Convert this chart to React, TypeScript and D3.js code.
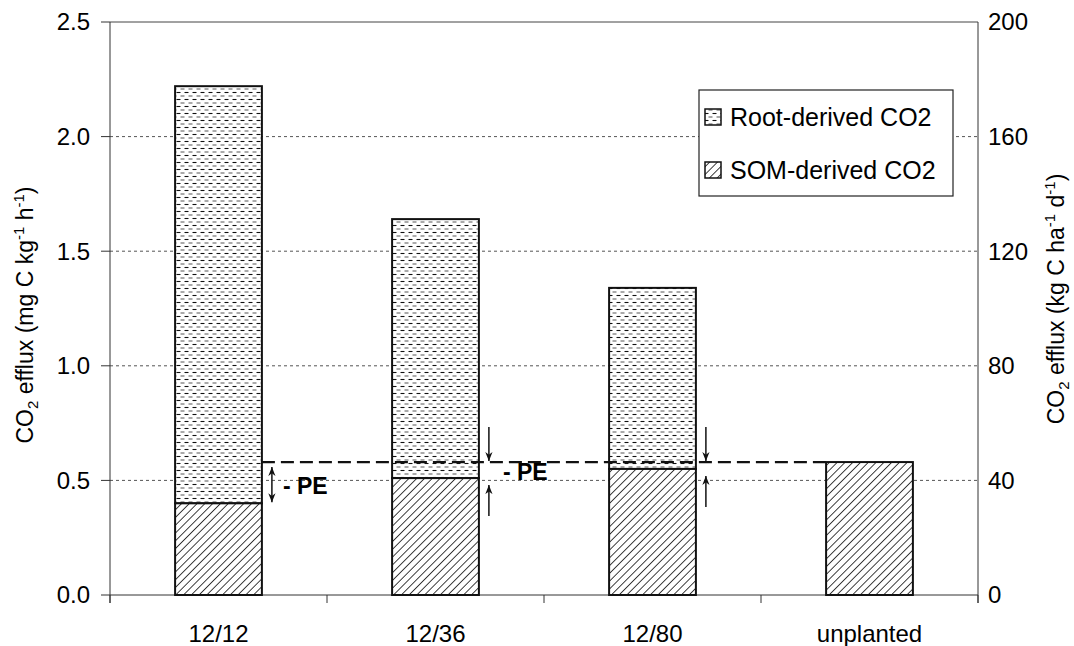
import React, { useEffect, useRef } from 'react';
import * as d3 from 'd3';

const categories = ['12/12', '12/36', '12/80', 'unplanted'];
const somValues = [0.4, 0.51, 0.55, 0.58];
const rootValues = [1.82, 1.13, 0.79, 0];
const leftTicks = [0, 0.5, 1.0, 1.5, 2.0, 2.5];
const rightTicks = [0, 40, 80, 120, 160, 200];
const legendItems = ['Root-derived CO2', 'SOM-derived CO2'];

const FONT = 'Liberation Sans, Arial, sans-serif';

const App = () => {
  const svgRef = useRef<SVGSVGElement>(null);

  useEffect(() => {
    const svg = d3.select(svgRef.current);
    svg.selectAll('*').remove();

    const left = 110, right = 978, top = 22, bottom = 595;

    const x = d3.scaleBand<string>()
      .domain(categories)
      .range([left, right])
      .paddingInner(0.6)
      .paddingOuter(0.3);
    const y = d3.scaleLinear().domain([0, 2.5]).range([bottom, top]);
    const yRight = d3.scaleLinear().domain([0, 200]).range([bottom, top]);
    const bw = x.bandwidth();
    const step = x.step();

    // patterns
    const defs = svg.append('defs');
    const root = defs.append('pattern')
      .attr('id', 'rootPat')
      .attr('patternUnits', 'userSpaceOnUse')
      .attr('width', 8)
      .attr('height', 7);
    root.append('rect').attr('width', 8).attr('height', 7).attr('fill', '#fff');
    root.append('line').attr('x1', 0.5).attr('x2', 4.5).attr('y1', 1.5).attr('y2', 1.5)
      .attr('stroke', '#111').attr('stroke-width', 1.1);
    root.append('line').attr('x1', 4.5).attr('x2', 8).attr('y1', 5).attr('y2', 5)
      .attr('stroke', '#555').attr('stroke-width', 1);
    root.append('line').attr('x1', 0).attr('x2', 0.5).attr('y1', 5).attr('y2', 5)
      .attr('stroke', '#555').attr('stroke-width', 1);

    const som = defs.append('pattern')
      .attr('id', 'somPat')
      .attr('patternUnits', 'userSpaceOnUse')
      .attr('width', 5.5)
      .attr('height', 5.5)
      .attr('patternTransform', 'rotate(45)');
    som.append('rect').attr('width', 5.5).attr('height', 5.5).attr('fill', '#fff');
    som.append('line').attr('x1', 0).attr('x2', 0).attr('y1', 0).attr('y2', 5.5)
      .attr('stroke', '#111').attr('stroke-width', 1.6);

    defs.append('marker')
      .attr('id', 'head')
      .attr('viewBox', '0 0 10 10')
      .attr('refX', 10).attr('refY', 5)
      .attr('markerWidth', 9).attr('markerHeight', 9)
      .attr('markerUnits', 'userSpaceOnUse')
      .attr('orient', 'auto-start-reverse')
      .append('path')
      .attr('d', 'M0,1 L10,5 L0,9 L3,5 Z')
      .attr('fill', '#111');

    // grid
    svg.append('g').selectAll('line')
      .data(leftTicks.filter(d => d > 0 && d < 2.5))
      .join('line')
      .attr('x1', left).attr('x2', right)
      .attr('y1', d => y(d)).attr('y2', d => y(d))
      .attr('stroke', '#555')
      .attr('stroke-width', 1)
      .attr('stroke-dasharray', '3,3');

    // frame
    svg.append('line').attr('x1', left).attr('x2', right).attr('y1', top).attr('y2', top)
      .attr('stroke', '#444');
    svg.append('line').attr('x1', left).attr('x2', left).attr('y1', top).attr('y2', bottom + 8)
      .attr('stroke', '#333');
    svg.append('line').attr('x1', right).attr('x2', right).attr('y1', top).attr('y2', bottom + 8)
      .attr('stroke', '#333');
    svg.append('line').attr('x1', left).attr('x2', right).attr('y1', bottom).attr('y2', bottom)
      .attr('stroke', '#333');

    // left ticks & labels
    const lt = svg.append('g');
    lt.selectAll('line').data(leftTicks).join('line')
      .attr('x1', left - 9).attr('x2', left)
      .attr('y1', d => y(d)).attr('y2', d => y(d))
      .attr('stroke', '#333');
    lt.selectAll('text').data(leftTicks).join('text')
      .attr('x', 90).attr('y', d => y(d))
      .attr('dy', '0.35em')
      .attr('text-anchor', 'end')
      .attr('font-family', FONT).attr('font-size', 24)
      .text(d => d3.format('.1f')(d));

    // right labels
    svg.append('g').selectAll('text').data(rightTicks).join('text')
      .attr('x', 988).attr('y', d => yRight(d))
      .attr('dy', '0.35em')
      .attr('font-family', FONT).attr('font-size', 24)
      .text(d => d);

    // x ticks & labels
    svg.append('g').selectAll('line')
      .data(d3.range(categories.length + 1))
      .join('line')
      .attr('x1', i => left + i * step).attr('x2', i => left + i * step)
      .attr('y1', bottom).attr('y2', bottom + 8)
      .attr('stroke', '#333');
    svg.append('g').selectAll('text').data(categories).join('text')
      .attr('x', d => (x(d) as number) + bw / 2)
      .attr('y', 642)
      .attr('text-anchor', 'middle')
      .attr('font-family', FONT).attr('font-size', 24)
      .text(d => d);

    // bars
    const bars = svg.append('g');
    categories.forEach((c, i) => {
      const x0 = x(c) as number;
      const s = somValues[i];
      const r = rootValues[i];
      if (r > 0) {
        bars.append('rect')
          .attr('x', x0).attr('y', y(s + r))
          .attr('width', bw).attr('height', y(s) - y(s + r))
          .attr('fill', 'url(#rootPat)')
          .attr('stroke', '#111').attr('stroke-width', 2);
      }
      bars.append('rect')
        .attr('x', x0).attr('y', y(s))
        .attr('width', bw).attr('height', y(0) - y(s))
        .attr('fill', 'url(#somPat)')
        .attr('stroke', '#111').attr('stroke-width', 2);
    });

    // unplanted reference line
    const refY = y(somValues[3]);
    svg.append('line')
      .attr('x1', (x(categories[0]) as number) + bw)
      .attr('x2', x(categories[3]) as number)
      .attr('y1', refY).attr('y2', refY)
      .attr('stroke', '#111')
      .attr('stroke-width', 2.2)
      .attr('stroke-dasharray', '13,6');

    // PE arrows
    const ann = svg.append('g').attr('stroke', '#111').attr('stroke-width', 1.5);
    const ax1 = (x(categories[0]) as number) + bw + 10;
    ann.append('line')
      .attr('x1', ax1).attr('x2', ax1)
      .attr('y1', refY + 5).attr('y2', y(somValues[0]) - 1)
      .attr('marker-start', 'url(#head)')
      .attr('marker-end', 'url(#head)');
    [1, 2].forEach(i => {
      const ax = (x(categories[i]) as number) + bw + 10;
      ann.append('line')
        .attr('x1', ax).attr('x2', ax)
        .attr('y1', refY - 35).attr('y2', refY - 1)
        .attr('marker-end', 'url(#head)');
      ann.append('line')
        .attr('x1', ax).attr('x2', ax)
        .attr('y1', y(somValues[i]) + 38).attr('y2', y(somValues[i]) + 7)
        .attr('marker-end', 'url(#head)');
    });

    svg.append('text')
      .attr('x', ax1 + 11).attr('y', (refY + y(somValues[0])) / 2 + 3)
      .attr('dy', '0.35em')
      .attr('font-family', FONT).attr('font-size', 23).attr('font-weight', 'bold')
      .text('- PE');
    svg.append('text')
      .attr('x', (x(categories[1]) as number) + bw + 24).attr('y', (refY + y(somValues[1])) / 2 + 2)
      .attr('dy', '0.35em')
      .attr('font-family', FONT).attr('font-size', 23).attr('font-weight', 'bold')
      .text('- PE');

    // legend
    const lg = svg.append('g');
    lg.append('rect')
      .attr('x', 699).attr('y', 90).attr('width', 254).attr('height', 106)
      .attr('fill', '#fff').attr('stroke', '#222').attr('stroke-width', 1.2);
    legendItems.forEach((t, i) => {
      const cy = 117 + i * 53;
      lg.append('rect')
        .attr('x', 705).attr('y', cy - 8).attr('width', 16).attr('height', 16)
        .attr('fill', i === 0 ? 'url(#rootPat)' : 'url(#somPat)')
        .attr('stroke', '#111').attr('stroke-width', 1.5);
      lg.append('text')
        .attr('x', 730).attr('y', cy)
        .attr('dy', '0.36em')
        .attr('font-family', FONT).attr('font-size', 25)
        .text(t);
    });

    // axis titles
    const leftTitle = svg.append('text')
      .attr('transform', 'translate(33,315) rotate(-90)')
      .attr('text-anchor', 'middle')
      .attr('font-family', FONT).attr('font-size', 23);
    leftTitle.append('tspan').text('CO');
    leftTitle.append('tspan').attr('font-size', 15).attr('dy', 5).text('2');
    leftTitle.append('tspan').attr('dy', -5).text(' efflux (mg C kg');
    leftTitle.append('tspan').attr('font-size', 15).attr('dy', -9).text('-1');
    leftTitle.append('tspan').attr('dy', 9).text(' h');
    leftTitle.append('tspan').attr('font-size', 15).attr('dy', -9).text('-1');
    leftTitle.append('tspan').attr('dy', 9).text(')');

    const rightTitle = svg.append('text')
      .attr('transform', 'translate(1064,299) rotate(-90)')
      .attr('text-anchor', 'middle')
      .attr('font-family', FONT).attr('font-size', 23);
    rightTitle.append('tspan').text('CO');
    rightTitle.append('tspan').attr('font-size', 15).attr('dy', 5).text('2');
    rightTitle.append('tspan').attr('dy', -5).text(' efflux (kg C ha');
    rightTitle.append('tspan').attr('font-size', 15).attr('dy', -9).text('-1');
    rightTitle.append('tspan').attr('dy', 9).text(' d');
    rightTitle.append('tspan').attr('font-size', 15).attr('dy', -9).text('-1');
    rightTitle.append('tspan').attr('dy', 9).text(')');
  }, []);

  return (
    <svg
      ref={svgRef}
      width={1074}
      height={646}
      style={{ position: 'absolute', left: 0, top: 0, background: '#fff' }}
    />
  );
};

export default App;
